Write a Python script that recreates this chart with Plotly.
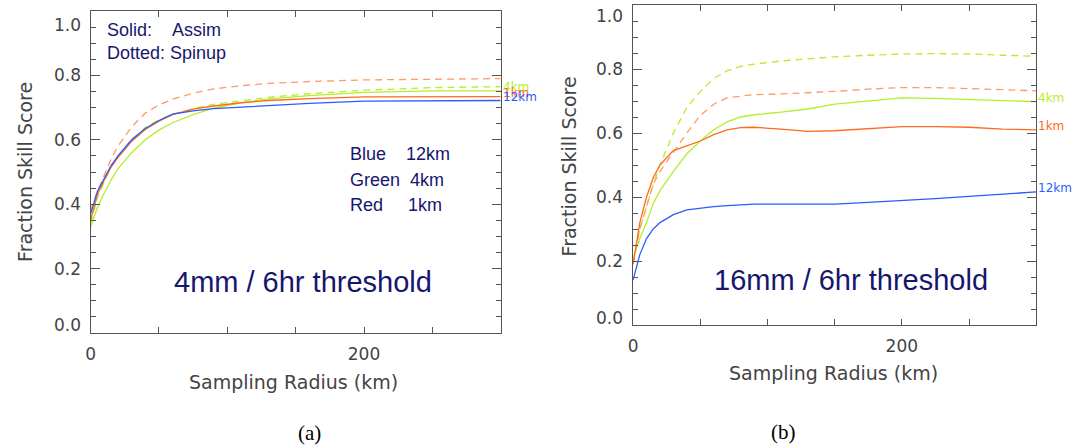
import plotly.graph_objects as go

# ---------------- data ----------------
# Panel (a): 4mm / 6hr threshold
radius_a = [0, 5, 10, 15, 20, 30, 40, 50, 60, 75, 90, 110, 130, 160, 200, 250, 300]
a_blue_assim = [0.37, 0.44, 0.48, 0.52, 0.55, 0.60, 0.635, 0.66, 0.68, 0.69, 0.697, 0.702, 0.707, 0.713, 0.72, 0.722, 0.722]
a_red_assim = [0.35, 0.43, 0.475, 0.515, 0.545, 0.595, 0.632, 0.658, 0.678, 0.695, 0.705, 0.715, 0.722, 0.728, 0.733, 0.734, 0.734]
a_green_assim = [0.33, 0.39, 0.435, 0.475, 0.51, 0.56, 0.60, 0.63, 0.653, 0.678, 0.698, 0.715, 0.727, 0.737, 0.747, 0.752, 0.752]
a_green_spinup = [0.34, 0.42, 0.47, 0.515, 0.55, 0.60, 0.638, 0.662, 0.68, 0.697, 0.71, 0.722, 0.732, 0.743, 0.754, 0.762, 0.765]
a_red_spinup = [0.38, 0.44, 0.49, 0.54, 0.58, 0.64, 0.683, 0.708, 0.726, 0.745, 0.758, 0.768, 0.775, 0.781, 0.786, 0.789, 0.79]

# Panel (b): 16mm / 6hr threshold
radius_b = [0, 5, 10, 15, 20, 30, 40, 50, 60, 70, 80, 90, 110, 130, 150, 175, 200, 225, 250, 275, 300]
b_green_spinup = [0.20, 0.30, 0.37, 0.44, 0.50, 0.60, 0.68, 0.73, 0.77, 0.795, 0.808, 0.815, 0.825, 0.832, 0.838, 0.843, 0.847, 0.848, 0.847, 0.843, 0.840]
b_red_spinup = [0.19, 0.30, 0.37, 0.44, 0.48, 0.54, 0.60, 0.655, 0.69, 0.71, 0.716, 0.72, 0.722, 0.725, 0.73, 0.737, 0.742, 0.742, 0.739, 0.735, 0.732]
b_green_assim = [0.21, 0.27, 0.32, 0.38, 0.42, 0.48, 0.535, 0.575, 0.61, 0.635, 0.65, 0.657, 0.665, 0.675, 0.69, 0.70, 0.71, 0.708, 0.705, 0.702, 0.698]
b_red_assim = [0.19, 0.32, 0.40, 0.46, 0.50, 0.545, 0.56, 0.575, 0.595, 0.61, 0.617, 0.618, 0.612, 0.605, 0.607, 0.613, 0.62, 0.62, 0.618, 0.612, 0.61]
b_blue_assim = [0.14, 0.22, 0.27, 0.30, 0.32, 0.345, 0.36, 0.366, 0.37, 0.373, 0.376, 0.378, 0.378, 0.378, 0.378, 0.383, 0.388, 0.395, 0.402, 0.41, 0.416]

y_tick_vals = [0.0, 0.2, 0.4, 0.6, 0.8, 1.0]
y_tick_text = ["0.0", "0.2", "0.4", "0.6", "0.8", "1.0"]
x_tick_vals = [0, 50, 100, 150, 200, 250, 300]
x_tick_text = ["0", "", "", "", "200", "", ""]

# ---------------- style ----------------
BLUE = "#2a5cff"
GREEN = "#b4ee2a"
RED = "#ff6a1e"
RED_DASH = "#ff9a62"
NAVY = "#16166e"
AXC = "#555555"
TICKFONT = dict(family="DejaVu Sans", size=17, color="#444444")
DASH = "7px,5px"

fig = go.Figure()


def add_line(x, y, color, dash, xa, ya):
    fig.add_trace(go.Scatter(x=x, y=y, mode="lines", xaxis=xa, yaxis=ya,
                             line=dict(color=color, width=1.3, dash=dash),
                             showlegend=False, hoverinfo="skip"))


# panel a
add_line(radius_a, a_red_spinup, RED_DASH, DASH, "x", "y")
add_line(radius_a, a_green_spinup, GREEN, DASH, "x", "y")
add_line(radius_a, a_green_assim, GREEN, "solid", "x", "y")
add_line(radius_a, a_red_assim, RED, "solid", "x", "y")
add_line(radius_a, a_blue_assim, BLUE, "solid", "x", "y")
# panel b
add_line(radius_b, b_green_spinup, GREEN, DASH, "x2", "y2")
add_line(radius_b, b_red_spinup, RED_DASH, DASH, "x2", "y2")
add_line(radius_b, b_green_assim, GREEN, "solid", "x2", "y2")
add_line(radius_b, b_red_assim, RED, "solid", "x2", "y2")
add_line(radius_b, b_blue_assim, BLUE, "solid", "x2", "y2")

W, H = 1084, 447
dom_a_x = [86 / W, 498 / W]
dom_a_y = [1 - 333 / H, 1 - 11 / H]
dom_b_x = [631 / W, 1036 / W]
dom_b_y = [1 - 325 / H, 1 - 5 / H]

xaxis_common = dict(range=[0, 300], tickvals=x_tick_vals, ticktext=x_tick_text,
                    ticks="inside", ticklen=6, tickcolor=AXC, tickwidth=1,
                    showline=True, linecolor=AXC, linewidth=1, mirror="allticks",
                    showgrid=False, zeroline=False, tickfont=TICKFONT,
                    ticklabelstandoff=6)
yaxis_common = dict(range=[0, 1.0], tickvals=y_tick_vals, showticklabels=False,
                    ticks="inside", ticklen=9, tickcolor=AXC, tickwidth=1,
                    minor=dict(dtick=0.05, ticks="inside", ticklen=5, tickcolor=AXC, showgrid=False),
                    showline=True, linecolor=AXC, linewidth=1, mirror="allticks",
                    showgrid=False, zeroline=False)

fig.update_layout(
    width=W, height=H,
    margin=dict(l=0, r=0, t=0, b=0),
    paper_bgcolor="white", plot_bgcolor="white",
    xaxis=dict(domain=dom_a_x, anchor="y", **xaxis_common),
    yaxis=dict(domain=dom_a_y, anchor="x", **yaxis_common),
    xaxis2=dict(domain=dom_b_x, anchor="y2", **xaxis_common),
    yaxis2=dict(domain=dom_b_y, anchor="x2", **yaxis_common),
)

ann = []
# y tick labels (IDL-style: end labels nudged inside the frame)
for xr, yr, top_shift, bot_shift in [("x", "y", -14, 8), ("x2", "y2", -11, 7)]:
    for v, t in zip(y_tick_vals, y_tick_text):
        shift = 0
        if v == 1.0:
            shift = top_shift
        elif v == 0.0:
            shift = bot_shift
        ann.append(dict(x=0, y=v, xref=xr, yref=yr, text=t, showarrow=False,
                        xanchor="right", yanchor="middle", xshift=-8, yshift=shift,
                        font=TICKFONT))

# axis titles
TITLEFONT = dict(family="DejaVu Sans", size=19, color="#444444")
ann.append(dict(x=290 / W, y=1 - 382 / H, xref="paper", yref="paper", text="Sampling Radius (km)",
                showarrow=False, xanchor="center", yanchor="middle", font=TITLEFONT))
ann.append(dict(x=832 / W, y=1 - 373 / H, xref="paper", yref="paper", text="Sampling Radius (km)",
                showarrow=False, xanchor="center", yanchor="middle", font=TITLEFONT))
ann.append(dict(x=20 / W, y=1 - 172 / H, xref="paper", yref="paper", text="Fraction Skill Score",
                showarrow=False, textangle=-90, xanchor="center", yanchor="middle", font=TITLEFONT))
ann.append(dict(x=567 / W, y=1 - 166 / H, xref="paper", yref="paper", text="Fraction Skill Score",
                showarrow=False, textangle=-90, xanchor="center", yanchor="middle", font=TITLEFONT))

# in-plot text
NF = dict(family="Liberation Sans", size=18, color=NAVY)
ann.append(dict(x=100 / W, y=1 - 30 / H, xref="paper", yref="paper", text="Solid:    Assim".replace(" ", "&nbsp;"),
                showarrow=False, xanchor="left", yanchor="middle", font=NF))
ann.append(dict(x=100 / W, y=1 - 53 / H, xref="paper", yref="paper", text="Dotted: Spinup",
                showarrow=False, xanchor="left", yanchor="middle", font=NF))
for txt, yy in [("Blue    12km", 154), ("Green  4km", 180), ("Red     1km", 205)]:
    ann.append(dict(x=345 / W, y=1 - yy / H, xref="paper", yref="paper", text=txt.replace(" ", "&nbsp;"),
                    showarrow=False, xanchor="left", yanchor="middle", font=NF))
BIG = dict(family="Liberation Sans", size=29, color=NAVY)
ann.append(dict(x=299 / W, y=1 - 282 / H, xref="paper", yref="paper", text="4mm / 6hr threshold",
                showarrow=False, xanchor="center", yanchor="middle", font=BIG))
ann.append(dict(x=850 / W, y=1 - 280 / H, xref="paper", yref="paper", text="16mm / 6hr threshold",
                showarrow=False, xanchor="center", yanchor="middle", font=BIG))

# line-end labels
SMALL = 12
for xr, yr, items in [("x", "y", [("4km", a_green_assim[-1], GREEN), ("1km", a_red_assim[-1], RED), ("12km", a_blue_assim[-1], BLUE)]),
                      ("x2", "y2", [("4km", b_green_assim[-1], GREEN), ("1km", b_red_assim[-1], RED), ("12km", b_blue_assim[-1], BLUE)])]:
    for t, v, c in items:
        ann.append(dict(x=300, y=v, xref=xr, yref=yr, text=t, showarrow=False,
                        xanchor="left", yanchor="middle", xshift=0, yshift=4,
                        font=dict(family="DejaVu Sans", size=SMALL, color=c)))

# captions
CAP = dict(family="Liberation Serif", size=21, color="black")
ann.append(dict(x=306 / W, y=1 - 433 / H, xref="paper", yref="paper", text="(a)",
                showarrow=False, xanchor="center", yanchor="middle", font=CAP))
ann.append(dict(x=782 / W, y=1 - 432 / H, xref="paper", yref="paper", text="(b)",
                showarrow=False, xanchor="center", yanchor="middle", font=CAP))

fig.update_layout(annotations=ann)
fig.write_html("out.html", config={"displayModeBar": False},
               post_script="document.body.style.margin='0';document.body.style.padding='0';")
